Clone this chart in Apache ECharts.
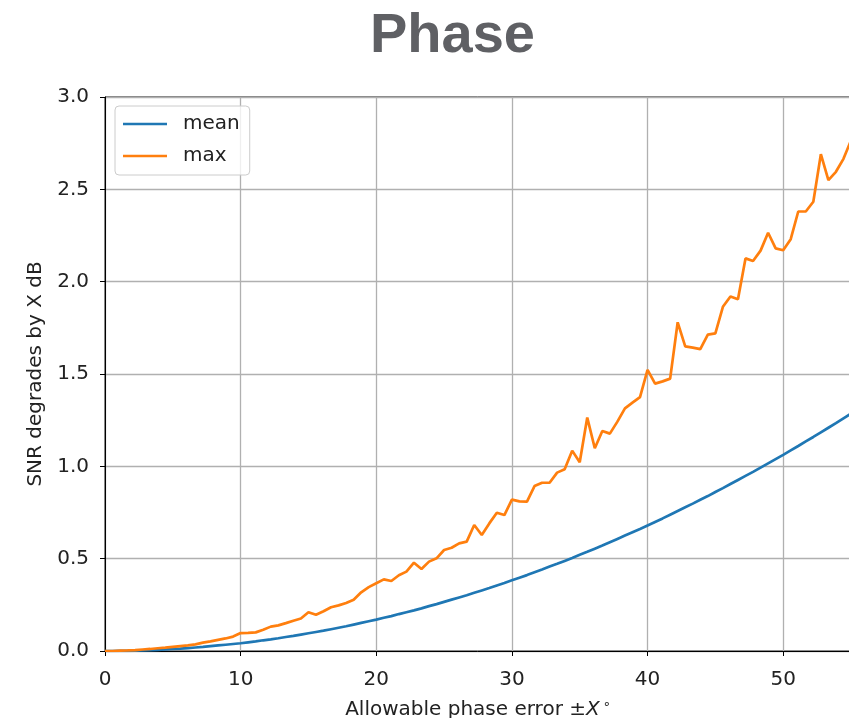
<!DOCTYPE html>
<html>
<head>
<meta charset="utf-8">
<title>Phase</title>
<script src="https://cdn.jsdelivr.net/npm/echarts@6/dist/echarts.min.js"></script>
<style>
  html, body { margin: 0; padding: 0; background: #fff; }
  #chart { width: 849px; height: 718px; }
</style>
</head>
<body>
<div id="chart"></div>
<script>
// Phase-error sweep: 100 evenly spaced points from 0 to 55 degrees
const xStart = 0;
const xEnd = 55;
const nPoints = 100;

// SNR degradation (dB), average over trials
const meanValues = [
  0.000, 0.000, 0.001, 0.001, 0.002, 0.003, 0.005, 0.006, 0.008, 0.011,
  0.013, 0.016, 0.019, 0.022, 0.026, 0.030, 0.034, 0.038, 0.042, 0.047,
  0.052, 0.058, 0.063, 0.069, 0.076, 0.082, 0.089, 0.096, 0.103, 0.110,
  0.118, 0.126, 0.134, 0.143, 0.152, 0.161, 0.170, 0.180, 0.189, 0.200,
  0.210, 0.220, 0.231, 0.243, 0.254, 0.266, 0.278, 0.290, 0.302, 0.315,
  0.328, 0.341, 0.355, 0.368, 0.383, 0.397, 0.411, 0.426, 0.441, 0.457,
  0.472, 0.488, 0.504, 0.521, 0.537, 0.554, 0.571, 0.589, 0.607, 0.625,
  0.643, 0.661, 0.680, 0.699, 0.718, 0.738, 0.758, 0.778, 0.798, 0.819,
  0.839, 0.861, 0.882, 0.904, 0.926, 0.948, 0.970, 0.993, 1.016, 1.039,
  1.062, 1.086, 1.110, 1.135, 1.159, 1.184, 1.209, 1.234, 1.260, 1.286
];

// SNR degradation (dB), worst case over trials
const maxValues = [
  0.000, 0.000, 0.002, 0.003, 0.005, 0.008, 0.011, 0.015, 0.018, 0.022,
  0.026, 0.030, 0.036, 0.045, 0.052, 0.060, 0.068, 0.078, 0.097, 0.098,
  0.101, 0.115, 0.132, 0.139, 0.151, 0.164, 0.176, 0.210, 0.196, 0.215,
  0.237, 0.247, 0.260, 0.278, 0.318, 0.346, 0.367, 0.388, 0.379, 0.410,
  0.430, 0.478, 0.444, 0.484, 0.502, 0.547, 0.559, 0.583, 0.592, 0.682,
  0.628, 0.691, 0.749, 0.736, 0.820, 0.810, 0.809, 0.893, 0.911, 0.911,
  0.966, 0.984, 1.085, 1.022, 1.264, 1.098, 1.191, 1.177, 1.242, 1.314,
  1.345, 1.375, 1.522, 1.448, 1.460, 1.475, 1.780, 1.650, 1.643, 1.635,
  1.713, 1.720, 1.864, 1.920, 1.905, 2.126, 2.112, 2.168, 2.265, 2.180,
  2.170, 2.230, 2.380, 2.380, 2.433, 2.690, 2.550, 2.595, 2.665, 2.765
];

const xTicks = [0, 10, 20, 30, 40, 50];
const yTicks = [0.0, 0.5, 1.0, 1.5, 2.0, 2.5, 3.0];

const seriesNames = ['mean', 'max'];
const seriesColors = ['#1f77b4', '#ff7f0e'];

// sample positions along the x axis
const xs = [];
for (let i = 0; i < nPoints; i++) xs.push(xStart + (xEnd - xStart) * i / (nPoints - 1));
const pairs = vals => vals.map((v, i) => [xs[i], v]);

const FONT = 'DejaVu Sans';
const FS = 20;
const TXT = '#222';
const chart = echarts.init(document.getElementById('chart'), null, { renderer: 'canvas' });

chart.setOption({
  backgroundColor: '#ffffff',
  animation: false,
  title: {
    text: 'Phase',
    left: 365,
    top: 4,
    textStyle: { fontFamily: 'Liberation Sans', fontWeight: 'bold', fontSize: 56, color: '#5f6064' }
  },
  grid: {
    left: 105, top: 97, width: 746, height: 554,
    containLabel: false,
    outerBoundsMode: 'none',
    show: true, borderColor: '#000', borderWidth: 1, backgroundColor: 'transparent'
  },
  legend: {
    orient: 'vertical',
    left: 115, top: 106,
    data: seriesNames,
    icon: 'rect',
    itemWidth: 44, itemHeight: 2.5,
    itemGap: 12,
    padding: [8, 10, 9, 8],
    backgroundColor: 'rgba(255,255,255,0.8)',
    borderColor: '#cccccc', borderWidth: 1, borderRadius: 4,
    textStyle: { fontFamily: FONT, fontSize: FS, color: TXT, padding: [0, 0, 0, 11] }
  },
  xAxis: {
    type: 'value',
    min: xStart, max: xEnd, interval: 10,
    name: 'Allowable phase error ±{i|X}{s|∘}',
    nameLocation: 'middle', nameGap: 47,
    nameTextStyle: {
      fontFamily: FONT, fontSize: FS, color: TXT,
      rich: {
        i: { fontFamily: FONT, fontStyle: 'italic', fontSize: FS, color: TXT },
        s: { fontFamily: FONT, fontSize: 13, color: TXT, verticalAlign: 'top', padding: [0, 0, 10, 3] }
      }
    },
    axisLine: { show: true, onZero: false, lineStyle: { color: '#000', width: 1 } },
    axisTick: { show: true, inside: false, length: 5, lineStyle: { color: '#000', width: 1 } },
    axisLabel: {
      margin: 19, fontFamily: FONT, fontSize: FS, color: TXT,
      showMaxLabel: false,
      formatter: v => (xTicks.indexOf(v) >= 0 ? String(v) : '')
    },
    splitLine: { show: true, lineStyle: { color: '#b0b0b0', width: 1.3 } }
  },
  yAxis: {
    type: 'value',
    min: yTicks[0], max: yTicks[yTicks.length - 1], interval: 0.5,
    name: 'SNR degrades by X dB',
    nameLocation: 'middle', nameGap: 54, nameRotate: 90,
    nameTextStyle: { fontFamily: FONT, fontSize: FS, color: TXT },
    axisLine: { show: true, onZero: false, lineStyle: { color: '#000', width: 1 } },
    axisTick: { show: true, inside: false, length: 5, lineStyle: { color: '#000', width: 1 } },
    axisLabel: {
      margin: 16, fontFamily: FONT, fontSize: FS, color: TXT,
      formatter: v => v.toFixed(1)
    },
    splitLine: { show: true, lineStyle: { color: '#b0b0b0', width: 1.3 } }
  },
  series: [
    {
      name: seriesNames[0], type: 'line', data: pairs(meanValues),
      symbol: 'none', lineStyle: { color: seriesColors[0], width: 2.7 },
      itemStyle: { color: seriesColors[0] }, clip: true, z: 3
    },
    {
      name: seriesNames[1], type: 'line', data: pairs(maxValues),
      symbol: 'none', lineStyle: { color: seriesColors[1], width: 2.7 },
      itemStyle: { color: seriesColors[1] }, clip: true, z: 4
    }
  ]
});
</script>
</body>
</html>
